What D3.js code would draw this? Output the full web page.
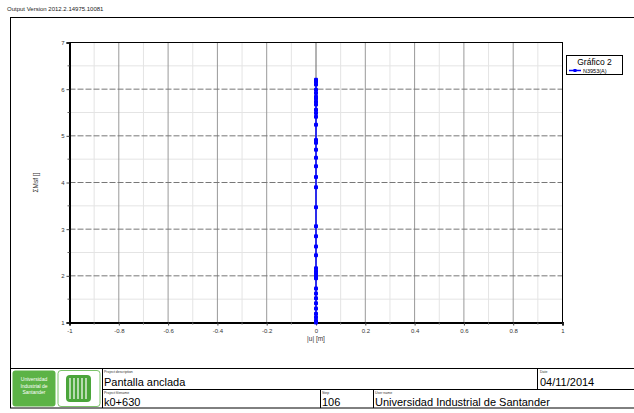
<!DOCTYPE html>
<html>
<head>
<meta charset="utf-8">
<script src="https://cdn.jsdelivr.net/npm/d3@7"></script>
<style>
  html, body { margin: 0; padding: 0; background: #fff; }
  svg { display: block; font-family: "Liberation Sans", Arial, sans-serif; }
</style>
</head>
<body>
<svg id="chart" width="634" height="413"></svg>
<script>
// Curve N3953(A): total displacement |u| vs. ΣMsf along the calculation
const sumMsf = [1.00, 1.04, 1.11, 1.19, 1.30, 1.41, 1.52, 1.62, 1.73, 1.95, 1.99, 2.05,
  2.10, 2.16, 2.44, 2.63, 2.85, 3.06, 3.47, 3.90, 4.12, 4.35, 4.53, 4.70, 4.85, 4.91,
  5.24, 5.41, 5.49, 5.56, 5.67, 5.73, 5.80, 5.84, 5.92, 5.99, 6.10, 6.16, 6.20];
const dispU = sumMsf.map(() => 0.0);

const xTicks = [-1, -0.8, -0.6, -0.4, -0.2, 0, 0.2, 0.4, 0.6, 0.8, 1];
const yTicks = [1, 2, 3, 4, 5, 6, 7];
const xMinor = [-0.9, -0.7, -0.5, -0.3, -0.1, 0.1, 0.3, 0.5, 0.7, 0.9];
const yMinor = [1.5, 2.5, 3.5, 4.5, 5.5, 6.5];

const svg = d3.select("#chart");
const font = "Liberation Sans, Arial, sans-serif";

// header
svg.append("text").attr("x", 7).attr("y", 11).attr("font-size", 6).attr("fill", "#222")
  .text("Output Version 2012.2.14975.10081");

// sheet frame
svg.append("rect").attr("x", 10.5).attr("y", 17.5).attr("width", 640).attr("height", 390.5)
  .attr("fill", "none").attr("stroke", "#000").attr("stroke-width", 1);

// plot area
const x = d3.scaleLinear().domain([-1, 1]).range([69.5, 562.5]);
const y = d3.scaleLinear().domain([1, 7]).range([322.5, 42.5]);

const g = svg.append("g");

// minor grid
g.selectAll("line.vminor").data(xMinor).join("line")
  .attr("x1", d => x(d)).attr("x2", d => x(d)).attr("y1", y(7)).attr("y2", y(1))
  .attr("stroke", "#e4e4e4").attr("stroke-width", 1);
g.selectAll("line.hminor").data(yMinor).join("line")
  .attr("x1", x(-1)).attr("x2", x(1)).attr("y1", d => y(d)).attr("y2", d => y(d))
  .attr("stroke", "#e4e4e4").attr("stroke-width", 1);

// major grid
g.selectAll("line.vmajor").data(xTicks.slice(1, -1)).join("line")
  .attr("x1", d => x(d)).attr("x2", d => x(d)).attr("y1", y(7)).attr("y2", y(1))
  .attr("stroke", d => d === 0 ? "#666" : "#999").attr("stroke-width", 1);
g.selectAll("line.hmajor").data(yTicks.slice(1, -1)).join("line")
  .attr("x1", x(-1)).attr("x2", x(1)).attr("y1", d => y(d)).attr("y2", d => y(d))
  .attr("stroke", "#777").attr("stroke-width", 1).attr("stroke-dasharray", "6,2");

// plot border
g.append("rect").attr("x", x(-1)).attr("y", y(7)).attr("width", x(1) - x(-1)).attr("height", y(1) - y(7))
  .attr("fill", "none").attr("stroke", "#000").attr("stroke-width", 1);

// axes (plain hyphen minus, as the program prints it)
const fmt = d => String(d);
const xAxis = d3.axisBottom(x).tickValues(xTicks).tickSize(3).tickPadding(3).tickFormat(fmt);
const yAxis = d3.axisLeft(y).tickValues(yTicks).tickSize(3).tickPadding(2).tickFormat(fmt);

const gx = svg.append("g").attr("transform", `translate(0,${y(1)})`).call(xAxis);
const gy = svg.append("g").attr("transform", `translate(${x(-1)},0)`).call(yAxis);
[gx, gy].forEach(a => {
  a.select(".domain").attr("stroke", "#000").attr("stroke-width", 2);
  a.selectAll(".tick line").attr("stroke", "#444");
  a.selectAll(".tick text").attr("font-size", 6).attr("fill", "#333").attr("font-family", font);
});
// minor ticks
svg.selectAll("line.xmt").data(xMinor).join("line")
  .attr("x1", d => x(d)).attr("x2", d => x(d)).attr("y1", y(1)).attr("y2", y(1) + 2)
  .attr("stroke", "#666");
svg.selectAll("line.ymt").data(yMinor).join("line")
  .attr("x1", x(-1) - 2).attr("x2", x(-1)).attr("y1", d => y(d)).attr("y2", d => y(d))
  .attr("stroke", "#666");

// axis titles
svg.append("text").attr("x", (x(-1) + x(1)) / 2).attr("y", 341).attr("text-anchor", "middle")
  .attr("font-size", 6.5).attr("fill", "#333").text("|u| [m]");
svg.append("text").attr("transform", `translate(38,${y(4)}) rotate(-90)`).attr("text-anchor", "middle")
  .attr("font-size", 6.5).attr("fill", "#333").text("ΣMsf []");

// curve
const pts = sumMsf.map((v, i) => [dispU[i], v]);
svg.append("path").datum(pts)
  .attr("d", d3.line().x(d => x(d[0])).y(d => y(d[1])))
  .attr("fill", "none").attr("stroke", "#0000ff").attr("stroke-width", 1.5);
svg.selectAll("rect.mk").data(pts).join("rect")
  .attr("x", d => x(d[0]) - 2).attr("y", d => y(d[1]) - 2)
  .attr("width", 4).attr("height", 4).attr("rx", 1)
  .attr("fill", "#0000ff");

// legend
const lg = svg.append("g");
lg.append("rect").attr("x", 566.5).attr("y", 55.5).attr("width", 56).attr("height", 19)
  .attr("fill", "#fff").attr("stroke", "#000");
lg.append("text").attr("x", 594.5).attr("y", 65).attr("text-anchor", "middle")
  .attr("font-size", 8.5).attr("fill", "#000").text("Gráfico 2");
lg.append("line").attr("x1", 569).attr("x2", 581).attr("y1", 70.5).attr("y2", 70.5)
  .attr("stroke", "#0000ff").attr("stroke-width", 1.5);
lg.append("rect").attr("x", 573.5).attr("y", 69).attr("width", 3).attr("height", 3).attr("fill", "#0000ff");
lg.append("text").attr("x", 583).attr("y", 72.5).attr("font-size", 5.5).attr("fill", "#000").text("N3953(A)");

// title block
const tb = svg.append("g");
const ln = (x1, y1, x2, y2) => tb.append("line").attr("x1", x1).attr("y1", y1).attr("x2", x2).attr("y2", y2)
  .attr("stroke", "#000").attr("stroke-width", 1);
ln(10, 368.5, 634, 368.5);
ln(102.5, 389.5, 634, 389.5);
ln(102.5, 368.5, 102.5, 408);
ln(320.5, 389.5, 320.5, 408);
ln(373.5, 389.5, 373.5, 408);
ln(537.5, 368.5, 537.5, 389.5);

// logo
tb.append("rect").attr("x", 12.5).attr("y", 370.5).attr("width", 43).attr("height", 36).attr("rx", 3)
  .attr("fill", "#5cb346");
["Universidad", "Industrial de", "Santander"].forEach((t, i) => {
  tb.append("text").attr("x", 34).attr("y", 381 + i * 6.5).attr("text-anchor", "middle")
    .attr("font-size", 5).attr("fill", "#fff").text(t);
});
tb.append("rect").attr("x", 58).attr("y", 370.5).attr("width", 42).attr("height", 36).attr("rx", 3)
  .attr("fill", "#fff").attr("stroke", "#7cc36a").attr("stroke-width", 1);
tb.append("rect").attr("x", 66).attr("y", 375).attr("width", 25).attr("height", 27).attr("rx", 4)
  .attr("fill", "#4aa53a");
[70, 74, 78, 82, 86].forEach(px => {
  tb.append("line").attr("x1", px).attr("x2", px).attr("y1", 378).attr("y2", 399)
    .attr("stroke", "#fff").attr("stroke-width", 1.2);
});

const lab = (xx, yy, t) => tb.append("text").attr("x", xx).attr("y", yy).attr("font-size", 3.5)
  .attr("fill", "#333").text(t);
const val = (xx, yy, t) => tb.append("text").attr("x", xx).attr("y", yy).attr("font-size", 11)
  .attr("fill", "#000").text(t);
lab(104, 373, "Project description"); val(104, 386, "Pantalla anclada");
lab(104, 394, "Project filename");    val(104, 406, "k0+630");
lab(322, 394, "Step");                val(322, 406, "106");
lab(375, 394, "User name");           val(375, 406, "Universidad Industrial de Santander");
lab(540, 373, "Date");                val(540, 386, "04/11/2014");
</script>
</body>
</html>
